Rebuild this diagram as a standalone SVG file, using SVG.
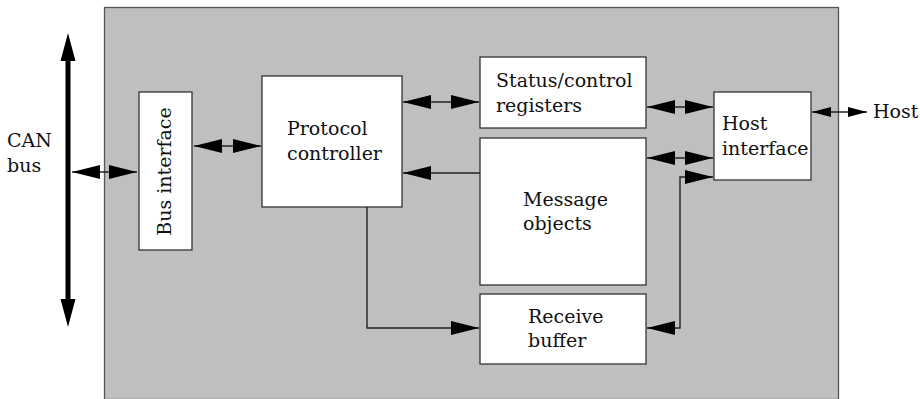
<svg xmlns="http://www.w3.org/2000/svg" width="920" height="399" viewBox="0 0 920 399">
<style>
.box{fill:#fff;stroke:#333;stroke-width:1.3}
.lbl{font-family:"DejaVu Serif","Liberation Serif",serif;font-size:19px;fill:#111}
.con{fill:none;stroke:#222;stroke-width:1.4}
</style>
<defs>
<marker id="ah" viewBox="0 0 28 14" refX="28" refY="7" markerWidth="28" markerHeight="14" markerUnits="userSpaceOnUse" orient="auto-start-reverse">
<path d="M0,0 L28,7 L0,14 z" fill="#000"/>
</marker>
<marker id="ahs" viewBox="0 0 19 10" refX="19" refY="5" markerWidth="19" markerHeight="10" markerUnits="userSpaceOnUse" orient="auto-start-reverse">
<path d="M0,0 L19,5 L0,10 z" fill="#000"/>
</marker>
</defs>
<rect x="104.5" y="7.5" width="734" height="392" fill="#bfbfbf" stroke="#555" stroke-width="1.3"/>
<g id="canbus">
<line x1="68" y1="58" x2="68" y2="302" stroke="#000" stroke-width="5"/>
<polygon points="68,33 60.5,61 75.5,61" fill="#000"/>
<polygon points="68,327 60.5,299 75.5,299" fill="#000"/>
<text class="lbl" x="7" y="147">CAN</text>
<text class="lbl" x="7" y="172">bus</text>
</g>
<g id="bus-interface">
<rect class="box" x="139" y="92" width="53" height="158"/>
<text class="lbl" text-anchor="middle" transform="translate(171,171.5) rotate(-90)">Bus interface</text>
</g>
<g id="protocol-controller">
<rect class="box" x="262" y="76" width="140" height="131"/>
<text class="lbl" x="287" y="135">Protocol</text>
<text class="lbl" x="287" y="160">controller</text>
</g>
<g id="status-control">
<rect class="box" x="480" y="57" width="166" height="71"/>
<text class="lbl" x="496" y="87">Status/control</text>
<text class="lbl" x="496" y="112">registers</text>
</g>
<g id="message-objects">
<rect class="box" x="480" y="138" width="166" height="147"/>
<text class="lbl" x="523" y="206">Message</text>
<text class="lbl" x="523" y="230">objects</text>
</g>
<g id="receive-buffer">
<rect class="box" x="480" y="294" width="166" height="70"/>
<text class="lbl" x="528" y="323">Receive</text>
<text class="lbl" x="528" y="347">buffer</text>
</g>
<g id="host-interface">
<rect class="box" x="714" y="92" width="97" height="88"/>
<text class="lbl" x="722" y="130">Host</text>
<text class="lbl" x="722" y="155">interface</text>
</g>
<g id="host">
<text class="lbl" x="873" y="118">Host</text>
</g>
<g id="connectors">
<path class="con" d="M72,172 H137" marker-start="url(#ah)" marker-end="url(#ah)"/>
<path class="con" d="M194,146 H261" marker-start="url(#ah)" marker-end="url(#ah)"/>
<path class="con" d="M403,102 H479" marker-start="url(#ah)" marker-end="url(#ah)"/>
<path class="con" d="M480,173 H403" marker-end="url(#ah)"/>
<path class="con" d="M367,207 V328 H479" marker-end="url(#ah)"/>
<path class="con" d="M647,107 H713" marker-start="url(#ah)" marker-end="url(#ah)"/>
<path class="con" d="M647,158 H713" marker-start="url(#ah)" marker-end="url(#ah)"/>
<path class="con" d="M713,177 H680 V328 H647" marker-start="url(#ah)" marker-end="url(#ah)"/>
<path class="con" d="M812,112 H867" marker-start="url(#ahs)" marker-end="url(#ahs)"/>
</g>
</svg>
